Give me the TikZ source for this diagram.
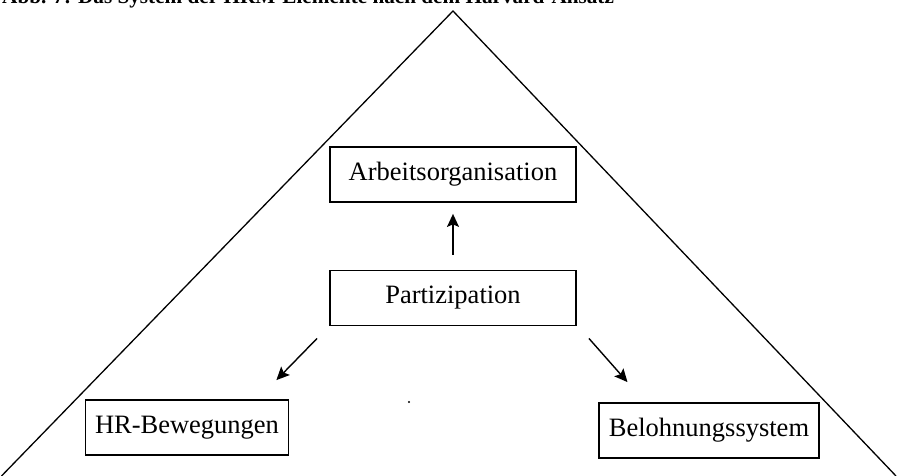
\documentclass[tikz,border=0pt]{standalone}
\usepackage{fontspec}
\setmainfont{Liberation Serif}
\usetikzlibrary{arrows.meta,calc}

\begin{document}
\begin{tikzpicture}[x=1pt,y=1pt,
  feld/.style={draw,line width=1.8,inner xsep=9.5pt,minimum height=55pt,font=\fontsize{26.5}{30}\selectfont},
  pfeil/.style={line width=1.4,-{Stealth[length=13pt,width=12pt,inset=2.5pt]}}]
\path[use as bounding box,clip] (0,0) rectangle (900,476);
%Dreieck
\draw [line width=1.3] (1.5,0) -- (453,465) -- (896,0);
%Titel
\node [anchor=base west,inner sep=0,font=\bfseries\fontsize{21.2}{25}\selectfont] (titel) at (2,472.5) {Abb. 7: Das System der HRM-Elemente nach dem Harvard-Ansatz};
%Kaesten
\node [feld,minimum width=246pt] (arb) at (453,301.5) {Arbeitsorganisation};
\node [feld,minimum width=246pt] (part) at (453,178) {Partizipation};
\node [feld] (hr) at (187,48.5) {HR-Bewegungen};
\node [feld] (bel) at (709,45.5) {Belohnungssystem};
%Pfeile
\draw [pfeil,shorten <=15pt,shorten >=11pt] (part.north) -- (arb.south);
\draw [pfeil] ($(part.south west)+(-12,-12)$) -- ($(hr.north east)+(-13,19)$);
\draw [pfeil] ($(part.south east)+(12,-12)$) -- ($(bel.north west)+(29,20)$);
\fill (409,74) circle (1.2);
\end{tikzpicture}
\end{document}
